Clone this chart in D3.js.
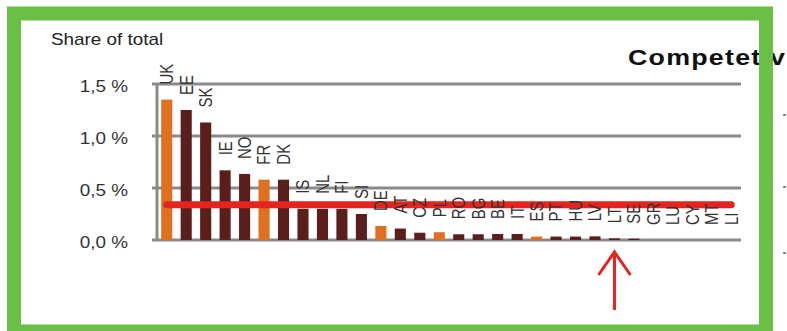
<!DOCTYPE html>
<html>
<head>
<meta charset="utf-8">
<script src="https://cdn.jsdelivr.net/npm/d3@7"></script>
<style>
  html, body { margin: 0; padding: 0; background: #fff; }
  svg { display: block; font-family: Arial, "Liberation Sans", sans-serif; }
</style>
</head>
<body>
<svg id="chart" width="787" height="331"></svg>
<script>
// Country codes, ordered by share
const categories = ["UK","EE","SK","IE","NO","FR","DK","IS","NL","FI","SI","DE","AT","CZ","PL",
                    "RO","BG","BE","IT","ES","PT","HU","LV","LT","SE","GR","LU","CY","MT","LI"];
// Share of total, in percent
const shares = [1.35,1.25,1.13,0.67,0.635,0.58,0.58,0.30,0.30,0.30,0.25,0.135,0.11,0.07,0.075,
                0.055,0.055,0.058,0.058,0.033,0.033,0.033,0.035,0.016,0.013,0,0,0,0,0];
// Countries drawn in the accent colour
const highlighted = ["UK","FR","DE","PL","ES"];
// Average share across all countries (percent)
const averageShare = 0.34;
// Y axis ticks (percent)
const yTicks = [0, 0.5, 1.0, 1.5];
// Country pointed at by the arrow
const arrowTarget = "LT";
const yTitle = "Share of total";
const sideTitle = "Competetiv";

const svg = d3.select("#chart");
const SX = 1.18; // horizontal text widening

const x = d3.scaleBand().domain(categories).range([157, 741])
  .paddingInner(0.43).paddingOuter(0.215);
const y = d3.scaleLinear().domain([0, 1.5]).range([240, 84]);
const fmt = v => d3.format(".1f")(v).replace(".", ",") + " %";
const xc = c => x(c) + x.bandwidth() / 2;

// Title on the right, partly hidden behind the frame
svg.append("text")
  .attr("transform", "translate(628,65) scale(1.22,1)")
  .attr("font-size", 22).attr("font-weight", "bold").attr("fill", "#111")
  .attr("textLength", 128.7).attr("lengthAdjust", "spacing")
  .text(sideTitle);

// small bullet marks of the neighbouring text
svg.append("g").selectAll("rect").data([115, 187, 253]).join("rect")
  .attr("x", 783).attr("y", d => d - 1).attr("width", 3).attr("height", 2).attr("fill", "#888");

// Gridlines with tick stubs
svg.append("g").selectAll("line").data(yTicks).join("line")
  .attr("x1", 152).attr("x2", 741)
  .attr("y1", d => y(d)).attr("y2", d => y(d))
  .attr("stroke", "#8a8a8a").attr("stroke-width", 3);

// vertical axis line
svg.append("line")
  .attr("x1", 157).attr("x2", 157).attr("y1", y(1.5)).attr("y2", y(0))
  .attr("stroke", "#8a8a8a").attr("stroke-width", 3);

// Y tick labels
svg.append("g").selectAll("text").data(yTicks).join("text")
  .attr("transform", d => `translate(128,${y(d) + 4}) scale(${SX},1)`)
  .attr("text-anchor", "end").attr("dominant-baseline", "middle")
  .attr("font-size", 16).attr("fill", "#333")
  .text(fmt);

// Axis title
svg.append("text")
  .attr("transform", `translate(51,45) scale(${SX},1)`)
  .attr("font-size", 16).attr("fill", "#222")
  .text(yTitle);

const data = categories.map((c, i) => ({ c, v: shares[i] }));

// Bars
svg.append("g").selectAll("rect").data(data).join("rect")
  .attr("x", d => x(d.c)).attr("width", x.bandwidth())
  .attr("y", d => y(d.v)).attr("height", d => y(0) - y(d.v))
  .attr("fill", d => highlighted.includes(d.c) ? "#e0701f" : "#5b1f1b");

// Average line
svg.append("line")
  .attr("x1", xc(categories[0])).attr("x2", xc(categories[categories.length - 1]))
  .attr("y1", y(averageShare)).attr("y2", y(averageShare))
  .attr("stroke", "#e3241f").attr("stroke-width", 7).attr("stroke-linecap", "round");

// Rotated country labels above each bar
svg.append("g").selectAll("text").data(data).join("text")
  .attr("transform", d => `translate(${xc(d.c)},${y(d.v) - 15}) scale(${SX},1) rotate(-90)`)
  .attr("dy", "0.36em")
  .attr("font-size", 15).attr("fill", "#333")
  .text(d => d.c);

// Arrow pointing at the selected country
const ax = xc(arrowTarget), tipY = 252;
svg.append("path")
  .attr("d", `M${ax},310 L${ax},${tipY} M${ax - 16},${tipY + 23} L${ax},${tipY} L${ax + 16},${tipY + 23}`)
  .attr("fill", "none").attr("stroke", "#e3241f").attr("stroke-width", 3);

// Green frame
svg.append("rect")
  .attr("x", 14).attr("y", 13.5).attr("width", 752).attr("height", 318)
  .attr("fill", "none").attr("stroke", "#6abf45").attr("stroke-width", 14);
</script>
</body>
</html>
